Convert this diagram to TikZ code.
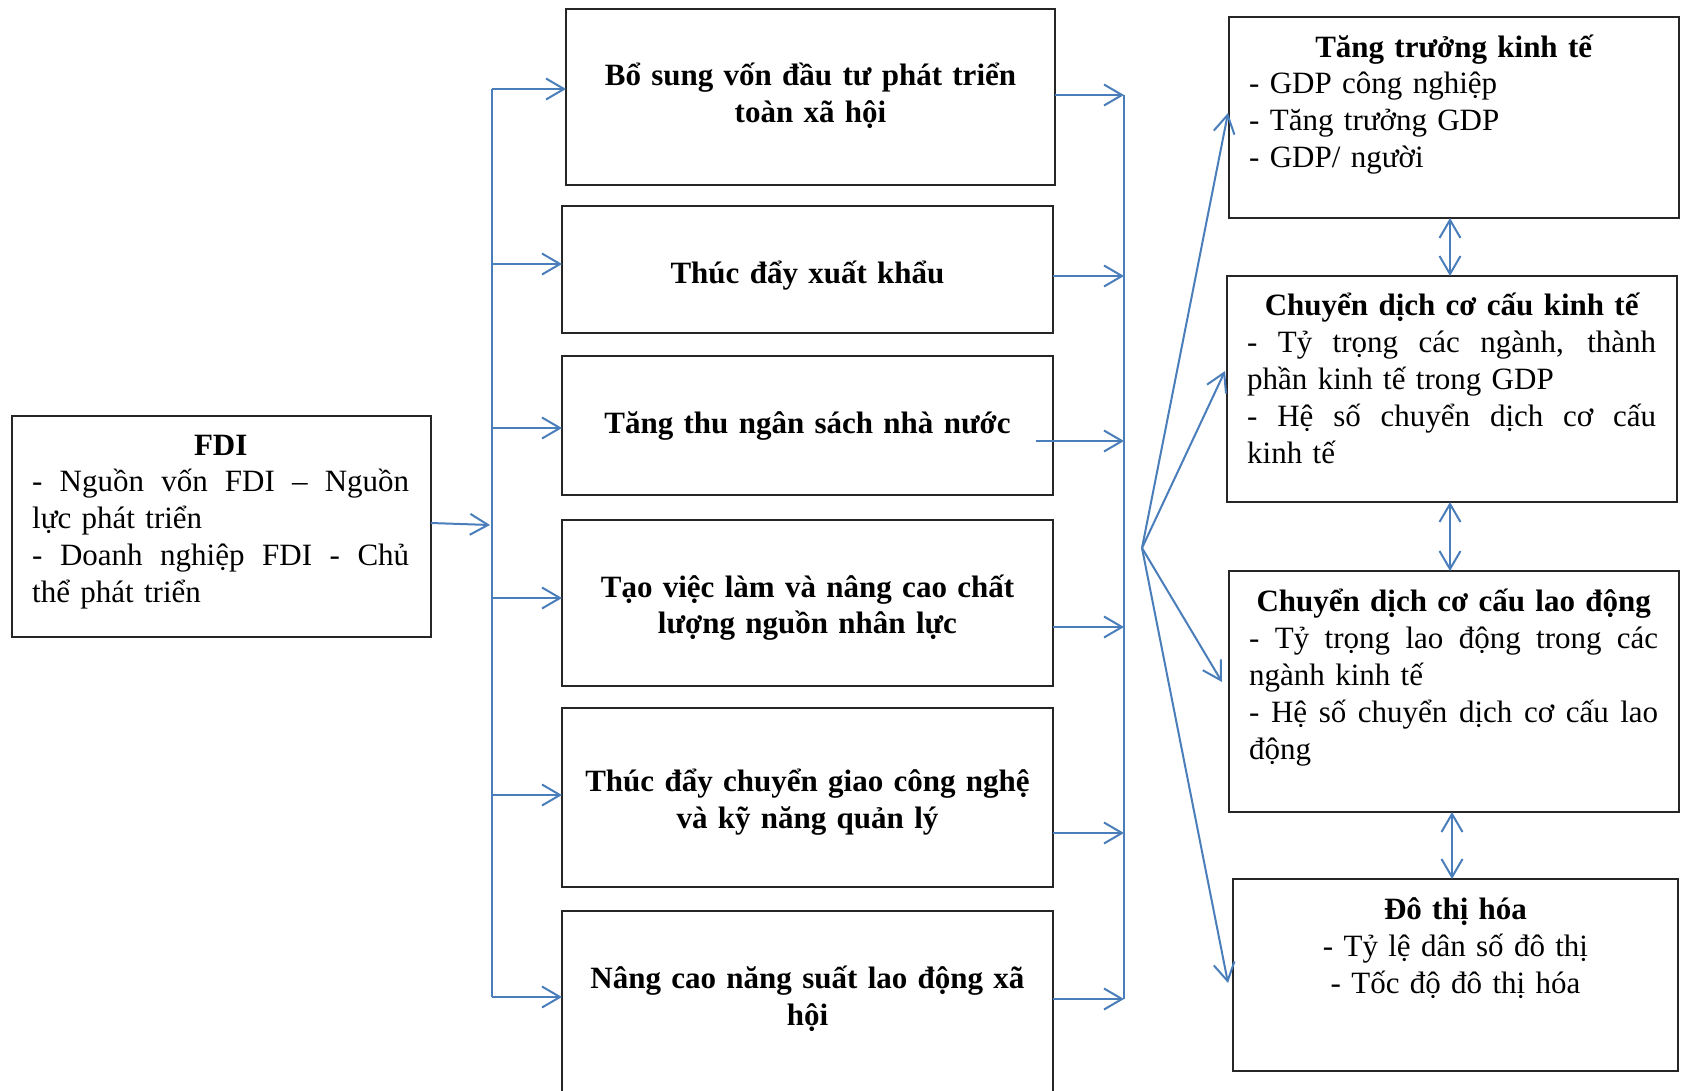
\documentclass[tikz,border=0pt]{standalone}
\usepackage{fontspec}
\setmainfont{Liberation Serif}
\usetikzlibrary{arrows.meta}
\definecolor{lineblue}{HTML}{4A7EBB}
\newcommand{\fsz}{\fontsize{31}{36.9}\selectfont}
\newcommand{\jl}[1]{\makebox[\linewidth][s]{\spaceskip=0.25em plus 1fil\relax #1}}
\newcommand{\cl}[1]{\makebox[\linewidth][c]{#1}}
\begin{document}
\begin{tikzpicture}[x=1pt,y=-1pt,
  box/.style={draw=black!85, line width=1.5pt, inner sep=0pt, outer sep=0pt},
  midtxt/.style={font=\fsz\bfseries, align=center, text width=470pt, anchor=base, inner sep=0pt},
  sidetxt/.style={font=\fsz, align=left, text width=#1, anchor=base west, inner sep=0pt},
  conn/.style={draw=lineblue, line width=2pt, -{Straight Barb[length=18pt,width=21pt,line width=2pt]}},
  dconn/.style={draw=lineblue, line width=2pt, {Straight Barb[length=18pt,width=21pt,line width=2pt]}-{Straight Barb[length=18pt,width=21pt,line width=2pt]}},
  bus/.style={draw=lineblue, line width=2pt}]
\useasboundingbox (0,0) rectangle (1684,1090);
\clip (0,0) rectangle (1684,1090);

% left box
\node[box, minimum width=419pt, minimum height=221pt] (f) at (221.5,526.5) {};
\node[sidetxt=377pt] (ft) at (32,455) {\cl{\bfseries FDI}\\
\jl{- Nguồn vốn FDI – Nguồn}\\lực phát triển\\
\jl{- Doanh nghiệp FDI - Chủ}\\thể phát triển};

% middle boxes
\node[box, minimum width=489pt, minimum height=176pt] (m1) at (810.5,97) {};
\node[box, minimum width=491pt, minimum height=127pt] (m2) at (807.5,269.5) {};
\node[box, minimum width=491pt, minimum height=139pt] (m3) at (807.5,425.5) {};
\node[box, minimum width=491pt, minimum height=166pt] (m4) at (807.5,603) {};
\node[box, minimum width=491pt, minimum height=179pt] (m5) at (807.5,797.5) {};
\node[box, minimum width=491pt, minimum height=182pt] (m6) at (807.5,1002) {};
\node[midtxt] (m1t) at (810.5,85.5) {Bổ sung vốn đầu tư phát triển\\toàn xã hội};
\node[midtxt] (m2t) at (807.5,283.5) {Thúc đẩy xuất khẩu};
\node[midtxt] (m3t) at (807.5,433.5) {Tăng thu ngân sách nhà nước};
\node[midtxt] (m4t) at (807.5,597) {Tạo việc làm và nâng cao chất\\lượng nguồn nhân lực};
\node[midtxt] (m5t) at (807.5,791.5) {Thúc đẩy chuyển giao công nghệ\\và kỹ năng quản lý};
\node[midtxt] (m6t) at (807.5,988.5) {Nâng cao năng suất lao động xã\\hội};

% right boxes
\node[box, minimum width=450pt, minimum height=201pt] (A) at (1454,117.5) {};
\node[box, minimum width=450pt, minimum height=226pt] (B) at (1452,389) {};
\node[box, minimum width=450pt, minimum height=241pt] (C) at (1454,691.5) {};
\node[box, minimum width=445pt, minimum height=192pt] (D) at (1455.5,975) {};
\node[sidetxt=409pt] (At) at (1249,57) {\cl{\bfseries Tăng trưởng kinh tế}\\
- GDP công nghiệp\\- Tăng trưởng GDP\\- GDP/ người};
\node[sidetxt=409pt] (Bt) at (1247,315.5) {\cl{\bfseries Chuyển dịch cơ cấu kinh tế}\\
\jl{- Tỷ trọng các ngành, thành}\\phần kinh tế trong GDP\\
\jl{- Hệ số chuyển dịch cơ cấu}\\kinh tế};
\node[sidetxt=409pt] (Ct) at (1249,611.5) {\cl{\bfseries Chuyển dịch cơ cấu lao động}\\
\jl{- Tỷ trọng lao động trong các}\\ngành kinh tế\\
\jl{- Hệ số chuyển dịch cơ cấu lao}\\động};
\node[font=\fsz, align=center, text width=409pt, anchor=base, inner sep=0pt] (Dt) at (1455.5,919.5) {\textbf{Đô thị hóa}\\- Tỷ lệ dân số đô thị\\- Tốc độ đô thị hóa};

% left bus
\coordinate (l1) at (492,89);
\coordinate (l2) at (492,264);
\coordinate (l3) at (492,428);
\coordinate (l4) at (492,598);
\coordinate (l5) at (492,795);
\coordinate (l6) at (492,997);
\coordinate (lin) at (490,525);
\draw[bus] (l1) -- (l6);
\draw[conn] ([yshift=3.5pt]f.east) -- (lin);
\draw[conn] (l1) -- (m1.west |- l1);
\draw[conn] (l2) -- (m2.west |- l2);
\draw[conn] (l3) -- (m3.west |- l3);
\draw[conn] (l4) -- (m4.west |- l4);
\draw[conn] (l5) -- (m5.west |- l5);
\draw[conn] (l6) -- (m6.west |- l6);

% right bus
\coordinate (r1) at (1124,95);
\coordinate (r2) at (1124,276);
\coordinate (r3) at (1124,441);
\coordinate (r4) at (1124,627);
\coordinate (r5) at (1124,833);
\coordinate (r6) at (1124,999);
\coordinate (r3s) at (1036,441);
\draw[bus] (r1) -- (r6);
\draw[conn] (m1.east |- r1) -- (r1);
\draw[conn] (m2.east |- r2) -- (r2);
\draw[conn] (r3s) -- (r3);
\draw[conn] (m4.east |- r4) -- (r4);
\draw[conn] (m5.east |- r5) -- (r5);
\draw[conn] (m6.east |- r6) -- (r6);

% fan
\coordinate (fan) at (1142,548);
\draw[conn] (fan) -- ([yshift=4.5pt,xshift=-1pt]A.west);
\draw[conn] (fan) -- ([yshift=18pt,xshift=-2pt]B.west);
\draw[conn] (fan) -- ([yshift=9.5pt,xshift=-7pt]C.west);
\draw[conn] (fan) -- ([yshift=-8pt,xshift=-5pt]D.west);

% double arrows
\draw[dconn] ([xshift=-4pt]A.south) -- ([xshift=-2pt]B.north);
\draw[dconn] ([xshift=-2pt]B.south) -- ([xshift=-4pt]C.north);
\draw[dconn] ([xshift=-2pt]C.south) -- ([xshift=-3.5pt]D.north);
\end{tikzpicture}
\end{document}
